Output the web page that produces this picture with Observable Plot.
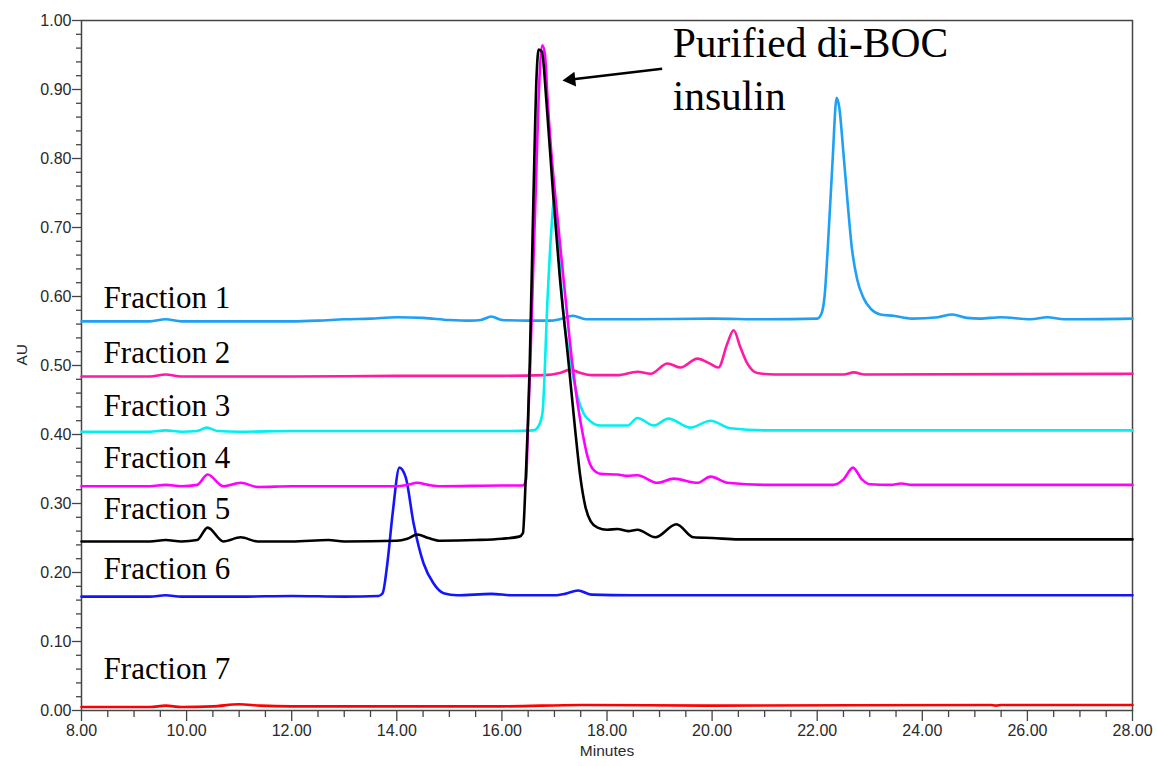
<!DOCTYPE html>
<html>
<head>
<meta charset="utf-8">
<script src="https://cdn.jsdelivr.net/npm/d3@7"></script>
<script src="https://cdn.jsdelivr.net/npm/@observablehq/plot@0.6"></script>
<style>
  html, body { margin: 0; padding: 0; background: #fff; }
  #chart { width: 1157px; height: 766px; }
</style>
</head>
<body>
<div id="chart"></div>
<script>
// ---- Data (minutes, AU) ----
const fraction1 = [[8.0,0.564],[9.3,0.564],[9.6,0.567],[9.9,0.564],[11.0,0.564],[12.0,0.564],[12.5,0.565],[13.0,0.567],[13.5,0.568],[14.0,0.570],[14.5,0.569],[15.0,0.566],[15.4,0.565],[15.6,0.566],[15.8,0.571],[16.0,0.566],[16.5,0.565],[16.9,0.565],[17.1,0.567],[17.35,0.572],[17.6,0.567],[18.5,0.567],[20.0,0.568],[21.0,0.567],[22.0,0.568],[22.08,0.575],[22.14,0.600],[22.22,0.696],[22.29,0.793],[22.37,0.888],[22.42,0.874],[22.50,0.807],[22.58,0.735],[22.66,0.670],[22.76,0.625],[22.88,0.598],[23.02,0.582],[23.2,0.574],[23.45,0.572],[23.8,0.568],[24.3,0.570],[24.57,0.574],[24.85,0.569],[25.1,0.568],[25.49,0.570],[26.06,0.567],[26.38,0.570],[26.7,0.567],[28.0,0.568]];
const fraction2 = [[8.0,0.484],[9.3,0.484],[9.6,0.487],[9.9,0.484],[12.0,0.484],[14.0,0.485],[16.0,0.485],[16.8,0.486],[17.1,0.489],[17.3,0.494],[17.5,0.489],[17.7,0.486],[18.2,0.486],[18.58,0.491],[18.83,0.488],[19.15,0.503],[19.4,0.497],[19.72,0.510],[19.95,0.503],[20.12,0.497],[20.29,0.532],[20.41,0.551],[20.54,0.526],[20.67,0.503],[20.86,0.489],[21.2,0.487],[22.5,0.487],[22.7,0.490],[22.9,0.487],[28.0,0.488]];
const fraction3 = [[8.0,0.404],[9.3,0.404],[9.6,0.406],[9.9,0.404],[10.2,0.405],[10.38,0.410],[10.6,0.405],[11.0,0.404],[12.0,0.405],[14.0,0.405],[16.0,0.405],[16.6,0.406],[16.68,0.410],[16.77,0.430],[16.87,0.599],[16.94,0.696],[16.99,0.738],[17.06,0.686],[17.17,0.575],[17.31,0.503],[17.44,0.455],[17.56,0.430],[17.69,0.419],[17.88,0.413],[18.39,0.413],[18.58,0.424],[18.89,0.413],[19.17,0.423],[19.59,0.410],[19.97,0.420],[20.35,0.409],[21.0,0.406],[28.0,0.406]];
const fraction4 = [[8.0,0.325],[9.3,0.325],[9.6,0.327],[9.9,0.325],[10.2,0.327],[10.40,0.342],[10.7,0.325],[11.03,0.330],[11.35,0.324],[12.0,0.325],[14.0,0.325],[14.2,0.327],[14.39,0.330],[14.6,0.327],[14.83,0.325],[16.0,0.326],[16.40,0.326],[16.46,0.335],[16.50,0.420],[16.54,0.503],[16.60,0.650],[16.64,0.743],[16.70,0.890],[16.77,0.964],[16.82,0.950],[16.87,0.885],[16.95,0.800],[17.02,0.743],[17.18,0.620],[17.34,0.503],[17.45,0.440],[17.54,0.400],[17.63,0.368],[17.73,0.350],[17.88,0.343],[18.2,0.342],[18.39,0.340],[18.58,0.341],[18.96,0.330],[19.27,0.336],[19.72,0.330],[19.97,0.339],[20.29,0.330],[21.0,0.327],[22.3,0.327],[22.5,0.335],[22.68,0.352],[22.85,0.335],[23.0,0.328],[23.4,0.327],[23.6,0.329],[23.8,0.327],[28.0,0.327]];
const fraction5 = [[8.0,0.245],[9.3,0.245],[9.6,0.247],[9.9,0.245],[10.2,0.247],[10.40,0.265],[10.7,0.245],[11.03,0.251],[11.35,0.245],[12.0,0.245],[12.7,0.247],[13.0,0.245],[14.0,0.246],[14.2,0.249],[14.39,0.255],[14.6,0.250],[14.83,0.246],[15.5,0.247],[16.0,0.249],[16.33,0.252],[16.40,0.257],[16.45,0.330],[16.53,0.503],[16.60,0.743],[16.66,0.920],[16.70,0.958],[16.76,0.955],[16.85,0.880],[16.98,0.743],[17.10,0.630],[17.27,0.503],[17.39,0.410],[17.49,0.340],[17.59,0.295],[17.69,0.274],[17.82,0.265],[18.0,0.262],[18.2,0.263],[18.4,0.260],[18.58,0.262],[18.92,0.251],[19.32,0.270],[19.65,0.251],[20.0,0.250],[20.5,0.248],[28.0,0.248]];
const fraction6 = [[8.0,0.165],[9.3,0.165],[9.6,0.167],[9.9,0.165],[11.0,0.165],[12.0,0.166],[13.0,0.165],[13.65,0.166],[13.73,0.170],[13.82,0.213],[13.92,0.285],[14.05,0.352],[14.17,0.338],[14.32,0.271],[14.51,0.213],[14.70,0.184],[14.89,0.170],[15.15,0.167],[15.8,0.169],[16.2,0.167],[17.0,0.167],[17.2,0.169],[17.45,0.174],[17.7,0.168],[18.5,0.167],[28.0,0.167]];
const fraction7 = [[8.0,0.005],[9.3,0.005],[9.6,0.007],[9.9,0.005],[10.5,0.006],[11.0,0.009],[11.4,0.007],[12.0,0.006],[16.0,0.006],[17.5,0.008],[20.0,0.007],[25.3,0.008],[25.4,0.007],[25.5,0.008],[28.0,0.008]];

const seriesNames = ["Fraction 1","Fraction 2","Fraction 3","Fraction 4","Fraction 5","Fraction 6","Fraction 7"];
const seriesData  = [fraction1, fraction2, fraction3, fraction4, fraction5, fraction6, fraction7];
const seriesColors = ["#1ea0f5","#ff1aa0","#00f0f0","#ff00ff","#000000","#1414ff","#ff0000"];
const drawOrder = [0, 1, 2, 5, 6, 3, 4];

// label anchor points (minutes, AU) for the fraction names
const labelX = [8.42, 8.42, 8.42, 8.42, 8.42, 8.42, 8.42];
const labelY = [0.583, 0.504, 0.4275, 0.352, 0.278, 0.191, 0.046];

const annotationLines = ["Purified di-BOC", "insulin"];
const annotationAt = [19.25, 0.947];
const arrowTail = [19.05, 0.930];
const arrowHead = [17.315, 0.9145];

const xMajorTicks = [8, 10, 12, 14, 16, 18, 20, 22, 24, 26, 28];
const xMinorTicks = [8.5, 9, 9.5, 10.5, 11, 11.5, 12.5, 13, 13.5, 14.5, 15, 15.5, 16.5, 17, 17.5, 18.5, 19, 19.5, 20.5, 21, 21.5, 22.5, 23, 23.5, 24.5, 25, 25.5, 26.5, 27, 27.5];
const yMajorTicks = [0, 0.1, 0.2, 0.3, 0.4, 0.5, 0.6, 0.7, 0.8, 0.9, 1.0];
const yMinorTicks = [0.02,0.04,0.06,0.08,0.12,0.14,0.16,0.18,0.22,0.24,0.26,0.28,0.32,0.34,0.36,0.38,0.42,0.44,0.46,0.48,0.52,0.54,0.56,0.58,0.62,0.64,0.66,0.68,0.72,0.74,0.76,0.78,0.82,0.84,0.86,0.88,0.92,0.94,0.96,0.98];
const xLabel = "Minutes";
const yLabel = "AU";

// ---- Build ----
const labels = seriesNames.map((n, i) => ({name: n, x: labelX[i], y: labelY[i]}));

const axisStroke = "#444";
const fmt = d => d.toFixed(2);
const blank = () => "";

const lineMarks = drawOrder.map(i =>
  Plot.line(seriesData[i], {x: d => d[0], y: d => d[1], stroke: seriesColors[i], strokeWidth: 2.6, curve: "monotone-x"})
);

const chart = Plot.plot({
  width: 1157,
  height: 766,
  marginLeft: 81,
  marginRight: 25,
  marginTop: 20,
  marginBottom: 56,
  x: {domain: [8, 28]},
  y: {domain: [0, 1]},
  style: {fontFamily: "'Liberation Sans', Arial, sans-serif", fontSize: "16px", color: "#2a2a2a", background: "#fff", overflow: "visible"},
  marks: [
    Plot.axisX(xMinorTicks, {tickSize: 7, tickFormat: blank, stroke: axisStroke, strokeWidth: 1.3, label: null}),
    Plot.axisX(xMajorTicks, {tickSize: 11, tickPadding: 3, tickFormat: fmt, stroke: axisStroke, strokeWidth: 1.3, label: null, fontSize: 16, fill: "#2a2a2a"}),
    Plot.axisY(yMinorTicks, {tickSize: 5, tickFormat: blank, stroke: axisStroke, strokeWidth: 1.3, label: null}),
    Plot.axisY(yMajorTicks, {tickSize: 9, tickPadding: 1, tickFormat: fmt, stroke: axisStroke, strokeWidth: 1.3, label: null, fontSize: 16, fill: "#2a2a2a"}),
    Plot.frame({stroke: axisStroke, strokeWidth: 1.5}),
    ...lineMarks,
    Plot.text(labels, {x: "x", y: "y", text: "name", textAnchor: "start", lineAnchor: "bottom", fontFamily: "'Liberation Serif', 'Times New Roman', serif", fontSize: 31, fill: "#000"}),
    Plot.text([annotationLines.join("\n")], {x: () => annotationAt[0], y: () => annotationAt[1], text: d => d, textAnchor: "start", lineAnchor: "top", lineHeight: 1.27, fontFamily: "'Liberation Serif', 'Times New Roman', serif", fontSize: 41.5, fill: "#000", dy: -37}),
    Plot.link([0], {x1: () => arrowTail[0], y1: () => arrowTail[1], x2: () => arrowHead[0], y2: () => arrowHead[1], stroke: "#000", strokeWidth: 2.5}),
    Plot.dot([0], {x: () => arrowHead[0], y: () => arrowHead[1], symbol: "triangle", r: 5.5, fill: "#000", stroke: "none", rotate: -96.4}),
    Plot.text([xLabel], {frameAnchor: "bottom", dy: 45, text: d => d, fontSize: 15.5, fill: "#2a2a2a"}),
    Plot.text([yLabel], {frameAnchor: "left", dx: -59, rotate: -90, text: d => d, fontSize: 15.5, fill: "#2a2a2a"})
  ]
});
document.getElementById("chart").appendChild(chart);
</script>
</body>
</html>
